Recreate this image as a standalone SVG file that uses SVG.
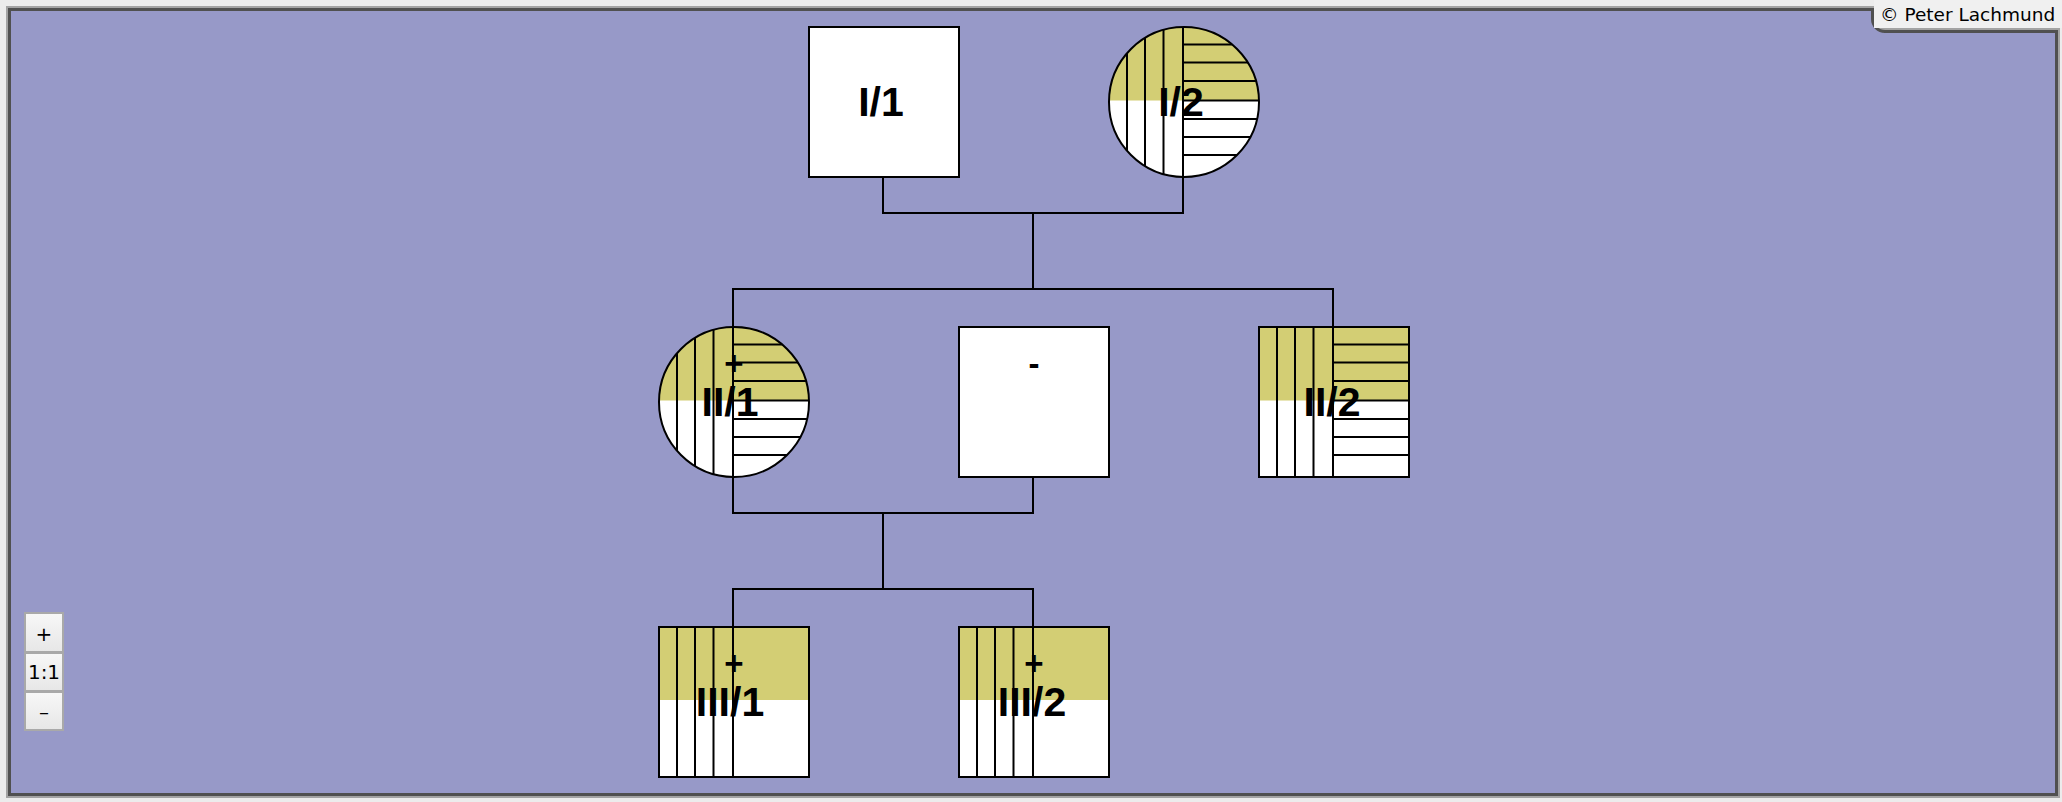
<svg xmlns="http://www.w3.org/2000/svg" width="2062" height="802" viewBox="0 0 2062 802">
<style>
.shape{fill:#ffffff}
.aff{fill:#d3ce74}
.hatch{stroke:#000;stroke-width:2;fill:none}
.outline{fill:none;stroke:#000;stroke-width:2}
.lbl{font-family:"Liberation Sans",Arial,sans-serif;font-weight:bold;font-size:41px;fill:#000;text-anchor:middle}
.sym{font-family:"Liberation Sans",Arial,sans-serif;font-weight:bold;font-size:33px;fill:#000;text-anchor:middle}
.conn{fill:none;stroke:#000;stroke-width:2}
.btn{font-family:"DejaVu Sans",sans-serif;font-size:20px;fill:#000;text-anchor:middle}
</style>
<defs>
<clipPath id="c12"><circle cx="1184" cy="102" r="75"/></clipPath>
<clipPath id="c21"><circle cx="734" cy="402" r="75"/></clipPath>
<linearGradient id="bg" x1="0" y1="0" x2="0" y2="1"><stop offset="0" stop-color="#f7f7f7"/><stop offset="1" stop-color="#e7e7e7"/></linearGradient>
</defs>
<rect x="0" y="0" width="2062" height="802" fill="#ececec"/>
<path d="M11,11 H1871 V19 A14,14 0 0 0 1885,33 H2055 V793 H11 Z" fill="none" stroke="#a3a3a3" stroke-width="10"/>
<path d="M11,11 H1871 V19 A14,14 0 0 0 1885,33 H2055 V793 H11 Z" fill="none" stroke="#505050" stroke-width="6"/>
<path d="M11,11 H1871 V19 A14,14 0 0 0 1885,33 H2055 V793 H11 Z" fill="#9799c8"/>
<rect x="1874" y="0" width="188" height="28" fill="#f0f0f0"/>
<text x="1880" y="21" font-family="DejaVu Sans,sans-serif" font-size="18.5" fill="#000">© Peter Lachmund</text>

<g id="connectors">
<path class="conn" d="M883,177 V213 H1183 V177"/>
<path class="conn" d="M1033,213 V289"/>
<path class="conn" d="M733,327 V289 H1333 V327"/>
<path class="conn" d="M733,477 V513 H1033 V477"/>
<path class="conn" d="M883,513 V589"/>
<path class="conn" d="M733,627 V589 H1033 V627"/>
</g>

<g id="I-1">
<rect class="shape" x="809" y="27" width="150" height="150"/>
<rect class="outline" x="809" y="27" width="150" height="150"/>
<text class="lbl" x="881" y="116">I/1</text>
</g>

<g id="I-2">
<circle class="shape" cx="1184" cy="102" r="75"/>
<g clip-path="url(#c12)">
<rect class="aff" x="1109" y="27" width="150" height="73.5"/>
<path class="hatch" d="M1127,27 V177 M1145,27 V177 M1163.5,27 V177 M1183,27 V177 M1183,44.5 H1259 M1183,62.5 H1259 M1183,81 H1259 M1183,100.5 H1259 M1183,119 H1259 M1183,137 H1259 M1183,155 H1259"/>
</g>
<circle class="outline" cx="1184" cy="102" r="75"/>
<text class="lbl" x="1181" y="116">I/2</text>
</g>

<g id="II-1">
<circle class="shape" cx="734" cy="402" r="75"/>
<g clip-path="url(#c21)">
<rect class="aff" x="659" y="327" width="150" height="73.5"/>
<path class="hatch" d="M677,327 V477 M695,327 V477 M713.5,327 V477 M733,327 V477 M733,344.5 H809 M733,362.5 H809 M733,381 H809 M733,400.5 H809 M733,419 H809 M733,437 H809 M733,455 H809"/>
</g>
<circle class="outline" cx="734" cy="402" r="75"/>
<text class="sym" x="734" y="375">+</text>
<text class="lbl" x="730" y="416">II/1</text>
</g>

<g id="II-spouse">
<rect class="shape" x="959" y="327" width="150" height="150"/>
<rect class="outline" x="959" y="327" width="150" height="150"/>
<text class="sym" x="1034" y="375">-</text>
</g>

<g id="II-2">
<rect class="shape" x="1259" y="327" width="150" height="150"/>
<rect class="aff" x="1259" y="327" width="150" height="73.5"/>
<path class="hatch" d="M1277,327 V477 M1295,327 V477 M1313.5,327 V477 M1333,327 V477 M1333,344.5 H1409 M1333,362.5 H1409 M1333,381 H1409 M1333,400.5 H1409 M1333,419 H1409 M1333,437 H1409 M1333,455 H1409"/>
<rect class="outline" x="1259" y="327" width="150" height="150"/>
<text class="lbl" x="1332" y="416">II/2</text>
</g>

<g id="III-1">
<rect class="shape" x="659" y="627" width="150" height="150"/>
<rect class="aff" x="659" y="627" width="150" height="73"/>
<path class="hatch" d="M677,627 V777 M695,627 V777 M713.5,627 V777 M733,627 V777"/>
<rect class="outline" x="659" y="627" width="150" height="150"/>
<text class="sym" x="734" y="675">+</text>
<text class="lbl" x="730" y="716">III/1</text>
</g>

<g id="III-2">
<rect class="shape" x="959" y="627" width="150" height="150"/>
<rect class="aff" x="959" y="627" width="150" height="73"/>
<path class="hatch" d="M977,627 V777 M995,627 V777 M1013.5,627 V777 M1033,627 V777"/>
<rect class="outline" x="959" y="627" width="150" height="150"/>
<text class="sym" x="1034" y="675">+</text>
<text class="lbl" x="1032" y="716">III/2</text>
</g>

<g id="zoom-controls">
<rect x="24" y="612" width="40" height="119" fill="#a9a9a9"/>
<rect x="26" y="614" width="36" height="37" fill="url(#bg)"/>
<rect x="26" y="654" width="36" height="36" fill="url(#bg)"/>
<rect x="26" y="693" width="36" height="36" fill="url(#bg)"/>
<text class="btn" x="44" y="641">+</text>
<text class="btn" x="44" y="679">1:1</text>
<text class="btn" x="44" y="719">–</text>
</g>
</svg>
